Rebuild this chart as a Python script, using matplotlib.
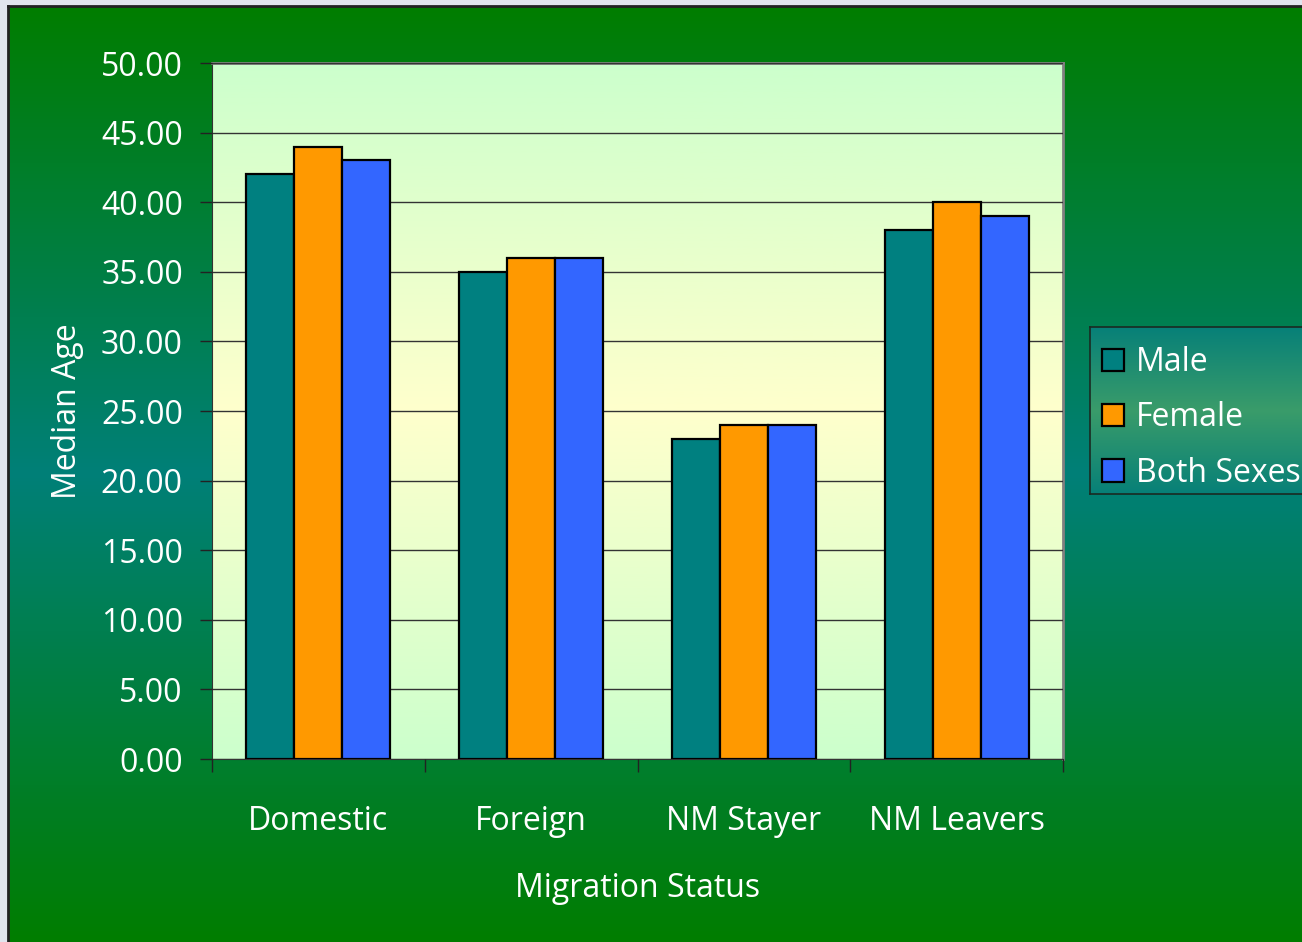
import numpy as np
import matplotlib.pyplot as plt
from matplotlib.colors import LinearSegmentedColormap

# data
categories = ['Domestic', 'Foreign', 'NM Stayer', 'NM Leavers']
series = ['Male', 'Female', 'Both Sexes']
male = [42, 35, 23, 38]
female = [44, 36, 24, 40]
both = [43, 36, 24, 39]
colors = ['#008080', '#ff9900', '#3366ff']
yticks = np.arange(0, 51, 5)

plt.rcParams['font.family'] = ['Open Sans', 'DejaVu Sans']
FS = 23

W, H = 1302, 942
fig = plt.figure(figsize=(W / 100, H / 100), dpi=100)
fig.patch.set_facecolor('#e1e5ee')

# green background panel
bg = fig.add_axes([8 / W, 0, 1, 1 - 6 / H])
bg_cmap = LinearSegmentedColormap.from_list('bg', ['#007d00', '#008078', '#007d00'])
bg.imshow(np.linspace(0, 1, 256).reshape(-1, 1), cmap=bg_cmap, aspect='auto',
          extent=[0, 1, 0, 1])
bg.set_xticks([])
bg.set_yticks([])
for s in ['right', 'bottom']:
    bg.spines[s].set_visible(False)
for s in ['top', 'left']:
    bg.spines[s].set_color('#222222')
    bg.spines[s].set_linewidth(2)

# main axes
ax = fig.add_axes([212 / W, 1 - 759 / H, (1063 - 212) / W, (759 - 63) / H])
plot_cmap = LinearSegmentedColormap.from_list('pa', ['#ccffcc', '#ffffcc', '#ccffcc'])
ax.imshow(np.linspace(0, 1, 256).reshape(-1, 1), cmap=plot_cmap, aspect='auto',
          extent=[-0.5, 3.5, 0, 50], zorder=0)

x = np.arange(len(categories))
w = 0.226
bars = []
for i, (vals, c, name) in enumerate(zip([male, female, both], colors, series)):
    b = ax.bar(x + (i - 1) * w, vals, w, color=c, edgecolor='black',
               linewidth=1.6, label=name, zorder=3)
    bars.append(b)

ax.set_xlim(-0.5, 3.5)
ax.set_ylim(0, 50)
ax.set_yticks(yticks)
ax.set_yticklabels(['%.2f' % v for v in yticks])
ax.yaxis.grid(True, color='#333333', linewidth=1)
ax.set_axisbelow(False)
for line in ax.get_ygridlines():
    line.set_zorder(1)

ax.set_xticks(np.arange(-0.5, 4, 1))
ax.set_xticklabels([])
ax.set_xticks(x, minor=True)
ax.set_xticklabels(categories, minor=True)
ax.tick_params(axis='x', which='major', direction='out', length=9, width=1, color='#222222')
ax.tick_params(axis='x', which='minor', length=0, pad=33, labelsize=FS, labelcolor='white')
ax.tick_params(axis='y', direction='out', length=9, width=1, color='#222222',
               pad=12, labelsize=FS, labelcolor='white')

ax.spines['left'].set_color('#333333')
ax.spines['bottom'].set_color('#333333')
ax.spines['top'].set_color('#808080')
ax.spines['right'].set_color('#808080')
ax.spines['top'].set_linewidth(2)
ax.spines['right'].set_linewidth(2)

ax.set_ylabel('Median Age', fontsize=FS, color='white')
ax.yaxis.set_label_coords(-0.150, 0.5)
ax.set_xlabel('Migration Status', fontsize=FS, color='white')
ax.xaxis.set_label_coords(0.5, -0.163)

# legend box with gradient
lax = fig.add_axes([1090 / W, 1 - 494 / H, (1320 - 1090) / W, (494 - 327) / H])
leg_cmap = LinearSegmentedColormap.from_list('lg', ['#078078', '#3a9c6a', '#078078'])
lax.imshow(np.linspace(0, 1, 256).reshape(-1, 1), cmap=leg_cmap, aspect='auto',
           extent=[0, 1, 0, 1])
lax.set_xticks([])
lax.set_yticks([])
for s in lax.spines.values():
    s.set_color('#1a2a22')
    s.set_linewidth(1.2)
leg = lax.legend(bars, series, loc='center left', bbox_to_anchor=(0.018, 0.456),
                 frameon=False, fontsize=FS, labelcolor='white',
                 handlelength=0.7, handleheight=0.7, handletextpad=0.35,
                 labelspacing=0.7, borderaxespad=0.0, borderpad=0.25)

fig.savefig('out.png', dpi=100, facecolor=fig.get_facecolor())
